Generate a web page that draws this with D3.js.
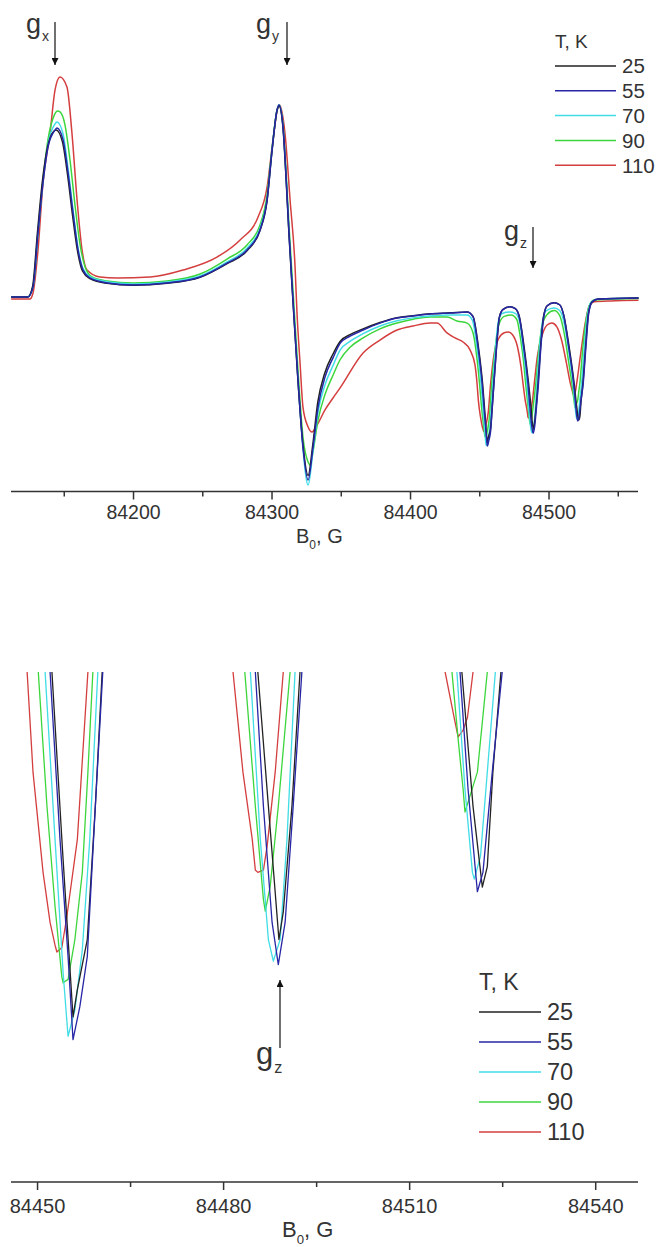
<!DOCTYPE html>
<html>
<head>
<meta charset="utf-8">
<script src="https://cdn.jsdelivr.net/npm/d3@7"></script>
<style>
  body { margin: 0; background: #fff; }
  svg { display: block; }
  text { font-family: "Liberation Sans", Arial, Helvetica, sans-serif; fill: #333; }
</style>
</head>
<body>
<svg id="chart" width="667" height="1247"></svg>
<script>
// EPR spectra at several temperatures: [field B0 (G), signal (a.u., g_y peak = 1)]
const temps  = ["25", "55", "70", "90", "110"];
const colors = ["#222222", "#2626a6", "#40dde6", "#3cd63c", "#d43e3e"];

const s25 = [
  [84112,0.005],[84124,0.005],[84127.5,0.06],[84131,0.34],[84134.5,0.60],[84138.2,0.78],[84142.5,0.862],[84144.5,0.870],
  [84149,0.81],[84152.7,0.64],[84156.3,0.43],[84160,0.24],[84163.5,0.14],[84168.9,0.100],[84181.2,0.076],[84200,0.066],
  [84224.5,0.076],[84248.4,0.107],[84267.9,0.178],[84282.3,0.245],[84291.7,0.35],[84296.8,0.505],[84300.4,0.765],
  [84304,0.972],[84305.4,0.995],[84308.3,0.88],[84310.5,0.62],[84312.6,0.33],[84315.5,-0.02],[84319.1,-0.43],
  [84322.7,-0.76],[84326.4,-0.92],[84329.8,-0.76],[84333.4,-0.54],[84338.4,-0.39],[84344.4,-0.29],[84349.5,-0.225],
  [84356.7,-0.19],[84366.1,-0.16],[84378.3,-0.127],[84390.6,-0.102],[84402.2,-0.092],[84414.4,-0.082],[84428.9,-0.077],
  [84441.2,-0.072],[84445.5,-0.095],[84449.3,-0.25],
  [84452.4,-0.444],[84454.1,-0.60],[84455.8,-0.747],[84456.5,-0.723],[84458.1,-0.679],[84459.4,-0.562],[84460.5,-0.444],
  [84462.5,-0.25],[84464.5,-0.10],[84467,-0.06],[84472,-0.045],[84476,-0.055],[84479,-0.10],[84482.3,-0.25],
  [84485.6,-0.444],[84487.1,-0.548],[84489.0,-0.679],[84489.7,-0.655],[84491.1,-0.562],[84492.4,-0.444],
  [84494.3,-0.25],[84496.3,-0.10],[84499,-0.04],[84504,-0.025],[84508,-0.035],[84511,-0.09],[84514.8,-0.25],
  [84518.5,-0.444],[84520.3,-0.562],[84521.8,-0.633],[84522.6,-0.615],[84523.5,-0.532],[84524.8,-0.444],
  [84526.8,-0.25],[84528.8,-0.08],[84531.5,-0.02],[84536,-0.005],[84565,0.0]
];

const s55 = [
  [84112,0.005],[84124,0.005],[84127.8,0.057],[84131.4,0.337],[84135,0.596],[84138.6,0.782],[84143.7,0.870],[84145.1,0.881],
  [84149.5,0.819],[84153.1,0.648],[84156.7,0.440],[84160.3,0.249],[84163.9,0.145],[84168.9,0.104],[84181.2,0.078],[84200,0.067],
  [84224.5,0.078],[84248.4,0.109],[84267.9,0.181],[84282.3,0.249],[84291.7,0.352],[84296.8,0.508],[84300.4,0.767],
  [84304,0.974],[84305.4,1.0],[84308.3,0.886],[84310.5,0.627],[84312.6,0.337],[84315.5,-0.01],[84319.1,-0.425],
  [84322.7,-0.772],[84326.4,-0.943],[84330,-0.772],[84333.6,-0.565],[84338.6,-0.41],[84344.4,-0.31],[84349.5,-0.235],
  [84356.7,-0.198],[84366.1,-0.166],[84378.3,-0.130],[84390.6,-0.104],[84402.2,-0.093],[84414.4,-0.083],[84428.9,-0.078],
  [84441.2,-0.073],[84445.5,-0.098],[84449.1,-0.254],
  [84452.1,-0.444],[84453.7,-0.591],[84455.0,-0.694],[84455.8,-0.767],[84456.9,-0.738],[84458.1,-0.694],[84459.4,-0.562],[84460.6,-0.444],
  [84462.5,-0.25],[84464.5,-0.10],[84467,-0.06],[84472,-0.045],[84476,-0.055],[84479,-0.10],[84482,-0.25],
  [84485.2,-0.444],[84486.5,-0.562],[84487.9,-0.664],[84488.9,-0.701],[84490.0,-0.664],[84491.3,-0.562],[84492.7,-0.444],
  [84494.5,-0.25],[84496.5,-0.10],[84499,-0.04],[84504,-0.025],[84508,-0.035],[84511,-0.09],[84514.5,-0.25],
  [84518.2,-0.444],[84519.5,-0.547],[84521.0,-0.637],[84521.9,-0.620],[84523.4,-0.532],[84525.0,-0.444],
  [84527,-0.25],[84529,-0.08],[84531.5,-0.02],[84536,-0.005],[84565,0.0]
];

const s70 = [
  [84112,0.005],[84124,0.005],[84127.8,0.06],[84131.4,0.345],[84135,0.61],[84138.6,0.80],[84143.5,0.90],[84145.1,0.912],
  [84149.5,0.85],[84153.1,0.67],[84156.7,0.455],[84160.3,0.26],[84163.9,0.152],[84168.9,0.11],[84181.2,0.084],[84200,0.073],
  [84224.5,0.083],[84248.4,0.114],[84267.9,0.187],[84282.3,0.258],[84291.7,0.362],[84296.8,0.515],[84300.4,0.77],
  [84304,0.975],[84305.4,1.0],[84308.3,0.89],[84310.5,0.635],[84312.6,0.345],[84315.5,0.0],[84319.1,-0.42],
  [84322.7,-0.78],[84326.4,-0.969],[84330,-0.79],[84333.6,-0.59],[84338.6,-0.45],[84344.4,-0.35],[84349.5,-0.27],
  [84356.7,-0.225],[84366.1,-0.185],[84378.3,-0.145],[84390.6,-0.118],[84402.2,-0.103],[84414.4,-0.093],[84428.9,-0.088],
  [84441.2,-0.088],[84445,-0.115],[84448.6,-0.27],
  [84451.3,-0.444],[84452.9,-0.591],[84454.2,-0.708],[84455.0,-0.764],[84456.1,-0.741],[84457.3,-0.688],[84458.5,-0.591],[84459.8,-0.444],
  [84461.7,-0.26],[84463.8,-0.12],[84466.5,-0.08],[84472,-0.073],[84476,-0.08],[84479,-0.12],[84481.6,-0.26],
  [84484.4,-0.444],[84486.0,-0.591],[84487.3,-0.679],[84488.1,-0.698],[84489.2,-0.679],[84490.3,-0.591],[84491.6,-0.444],
  [84493.5,-0.26],[84495.7,-0.12],[84498.5,-0.065],[84504,-0.052],[84508,-0.065],[84511,-0.12],[84514.5,-0.27],
  [84517.7,-0.444],[84519.0,-0.547],[84520.2,-0.620],[84520.5,-0.626],[84521.5,-0.606],[84522.6,-0.532],[84523.9,-0.444],
  [84525.8,-0.26],[84528,-0.09],[84531,-0.02],[84536,-0.005],[84565,0.0]
];

const s90 = [
  [84112,0.005],[84124,0.005],[84127.8,0.058],[84131.4,0.34],[84135,0.61],[84138.6,0.82],[84143,0.945],[84145.5,0.969],
  [84147.3,0.964],[84150.9,0.896],[84154.5,0.715],[84158.1,0.482],[84161.8,0.275],[84165.4,0.161],[84170.4,0.109],
  [84181.2,0.088],[84200,0.078],[84224.5,0.088],[84248.4,0.124],[84267.9,0.202],[84282.3,0.275],[84291.7,0.378],
  [84296.8,0.534],[84300.4,0.777],[84304,0.974],[84305.4,1.0],[84308.3,0.896],[84310.5,0.653],[84312.6,0.378],
  [84315.5,0.041],[84319.1,-0.373],[84322.7,-0.72],[84326.4,-0.85],[84327.8,-0.865],[84330,-0.793],[84333.6,-0.632],
  [84338.6,-0.50],[84344.4,-0.40],[84349.5,-0.32],[84356.7,-0.255],[84366.1,-0.207],[84378.3,-0.16],[84390.6,-0.13],
  [84402.2,-0.11],[84414.4,-0.098],[84426.7,-0.098],[84433.9,-0.119],[84441.2,-0.13],[84445.5,-0.181],[84448.6,-0.33],
  [84450.2,-0.444],[84451.6,-0.562],[84452.9,-0.650],[84454.0,-0.712],[84454.2,-0.717],[84455.0,-0.714],[84456.1,-0.679],
  [84457.3,-0.620],[84458.2,-0.532],[84459.0,-0.444],
  [84461.5,-0.26],[84464.5,-0.13],[84468,-0.095],[84473,-0.088],[84477,-0.11],[84480,-0.22],[84482,-0.33],
  [84483.5,-0.444],[84485.2,-0.562],[84486.5,-0.644],[84486.8,-0.654],[84487.6,-0.632],[84488.9,-0.562],[84490.8,-0.444],
  [84493,-0.27],[84495.5,-0.14],[84499,-0.085],[84504,-0.065],[84508,-0.09],[84511.5,-0.19],[84514.5,-0.33],
  [84516.9,-0.444],[84517.9,-0.503],[84518.7,-0.547],[84519.0,-0.567],[84519.8,-0.553],[84521.0,-0.532],[84521.8,-0.488],[84522.6,-0.444],
  [84524.5,-0.28],[84527,-0.12],[84530,-0.03],[84533,-0.01],[84565,-0.003]
];

const s110 = [
  [84112,-0.005],[84125.6,-0.005],[84127.8,0.026],[84131.4,0.249],[84135,0.596],[84140.1,0.855],[84143.7,1.078],[84147.3,1.145],
  [84152.3,1.093],[84155.9,0.855],[84159.6,0.508],[84163.2,0.249],[84166.8,0.145],[84176.2,0.109],[84188.4,0.104],
  [84212.3,0.109],[84236.1,0.145],[84260.6,0.212],[84277.3,0.301],[84290.3,0.42],[84296.8,0.575],[84301.1,0.819],
  [84304.7,0.99],[84305.8,1.0],[84309.7,0.855],[84313.4,0.508],[84317.0,0.161],[84318.4,-0.078],[84320.6,-0.337],
  [84322.7,-0.565],[84326.4,-0.668],[84329.2,-0.694],[84332.9,-0.658],[84338.6,-0.58],[84344.4,-0.518],[84349.5,-0.466],
  [84366.1,-0.285],[84378.3,-0.218],[84390.6,-0.166],[84402.2,-0.145],[84414.4,-0.13],[84419.5,-0.13],[84426.7,-0.181],
  [84432.5,-0.207],[84438.3,-0.228],[84443.3,-0.269],[84446.9,-0.347],
  [84448.4,-0.444],[84449.35,-0.532],[84450.97,-0.620],[84452.1,-0.664],[84452.9,-0.684],[84453.2,-0.690],[84454.0,-0.686],
  [84454.8,-0.659],[84456.5,-0.591],[84458.2,-0.444],
  [84460.5,-0.30],[84464,-0.21],[84468,-0.18],[84471,-0.176],[84474,-0.19],[84477.5,-0.25],[84480,-0.35],
  [84481.6,-0.444],[84483.2,-0.532],[84484.7,-0.591],[84485.2,-0.618],[84485.6,-0.620],[84486.5,-0.618],[84487.1,-0.597],
  [84488.4,-0.532],[84489.7,-0.444],
  [84492,-0.30],[84495.5,-0.19],[84499,-0.14],[84502.5,-0.13],[84506,-0.15],[84509.5,-0.22],[84513,-0.34],
  [84515.8,-0.444],[84517.4,-0.488],[84517.9,-0.501],[84518.7,-0.495],[84519.4,-0.484],[84520.3,-0.444],
  [84523,-0.30],[84526.5,-0.13],[84529.5,-0.04],[84533,-0.02],[84545,-0.015],[84565,-0.012]
];

const topMajor = [84200, 84300, 84400, 84500];
const topMinor = [84150, 84250, 84350, 84450, 84550];
const botMajor = [84450, 84480, 84510, 84540];
const botMinor = [84465, 84495, 84525];

const series = [s25, s55, s70, s90, s110];
const drawOrder = [4, 3, 2, 0, 1];

const svg = d3.select("#chart");

// ---------- scales ----------
const xTop = d3.scaleLinear().domain([84111.9, 84564.6]).range([11, 638]);
const yTop = d3.scaleLinear().domain([-1.0, 1.0]).range([491, 105]);
const xBot = d3.scaleLinear().domain([84445.8, 84546.9]).range([11, 638]);
const yBot = d3.scaleLinear().domain([-0.892, -0.444]).range([1182, 672]);

// ---------- full spectrum (top) ----------
const lineTop = d3.line().x(d => xTop(d[0])).y(d => yTop(d[1])).curve(d3.curveMonotoneX);
const gTop = svg.append("g");
drawOrder.forEach(i => {
  gTop.append("path").attr("d", lineTop(series[i]))
    .attr("fill", "none").attr("stroke", colors[i]).attr("stroke-width", 1.5)
    .attr("stroke-linejoin", "round");
});

// ---------- g_z region enlarged (bottom) ----------
svg.append("clipPath").attr("id", "clipBot")
  .append("rect").attr("x", 11).attr("y", 672).attr("width", 627).attr("height", 510);
const lineBot = d3.line().x(d => xBot(d[0])).y(d => yBot(d[1]));
const gBot = svg.append("g").attr("clip-path", "url(#clipBot)");
drawOrder.forEach(i => {
  gBot.append("path").attr("d", lineBot(series[i]))
    .attr("fill", "none").attr("stroke", colors[i]).attr("stroke-width", 1.3)
    .attr("stroke-linejoin", "round");
});

// ---------- axes ----------
function drawAxis(x, yPos, major, minor, fontSize, pad) {
  const g = svg.append("g").attr("transform", `translate(0,${yPos})`);
  g.call(d3.axisBottom(x).tickValues(major).tickSize(8).tickPadding(pad).tickFormat(d3.format("d")));
  const gm = svg.append("g").attr("transform", `translate(0,${yPos})`);
  gm.call(d3.axisBottom(x).tickValues(minor).tickSize(5).tickFormat(""));
  gm.select(".domain").remove();
  [g, gm].forEach(a => {
    a.selectAll("line").attr("stroke", "#333").attr("stroke-width", 1.5);
    a.selectAll(".domain").attr("stroke", "#333").attr("stroke-width", 1.5)
      .attr("d", `M${x.range()[0]},0H${x.range()[1]}`);
  });
  g.selectAll("text").attr("font-size", fontSize).attr("fill", "#333")
    .style("font-family", '"Liberation Sans", Arial, sans-serif');
}
drawAxis(xTop, 491.5, topMajor, topMinor, 19.5, 6);
drawAxis(xBot, 1182, botMajor, botMinor, 20, 9);

function axisTitle(x, y, size) {
  const t = svg.append("text").attr("x", x).attr("y", y).attr("font-size", size);
  t.append("tspan").text("B");
  t.append("tspan").text("0").attr("font-size", size * 0.6).attr("dy", size * 0.3);
  t.append("tspan").text(", G").attr("dy", -size * 0.3);
}
axisTitle(296, 543, 20);
axisTitle(282, 1237, 22);

// ---------- legends ----------
function legend(x, y0, step, lineLen, titleSize, labelSize) {
  svg.append("text").attr("x", x).attr("y", y0 - step + 0.36 * titleSize)
    .attr("font-size", titleSize).text("T, K");
  temps.forEach((t, i) => {
    const y = y0 + i * step;
    svg.append("line").attr("x1", x).attr("x2", x + lineLen).attr("y1", y).attr("y2", y)
      .attr("stroke", colors[i]).attr("stroke-width", 1.5);
    svg.append("text").attr("x", x + lineLen + 6).attr("y", y + 0.36 * labelSize)
      .attr("font-size", labelSize).text(t);
  });
}
legend(555, 66, 24.8, 61, 19, 20.5);
legend(479, 1012, 30, 62, 23, 23.5);

// ---------- g-value markers ----------
svg.append("defs").append("marker").attr("id", "arr")
  .attr("viewBox", "0 0 10 10").attr("refX", 10).attr("refY", 5)
  .attr("markerWidth", 7).attr("markerHeight", 7).attr("markerUnits", "userSpaceOnUse")
  .attr("orient", "auto")
  .append("path").attr("d", "M0,0L10,5L0,10Z").attr("fill", "#111");

function arrow(x, y1, y2) {
  svg.append("line").attr("x1", x).attr("x2", x).attr("y1", y1).attr("y2", y2)
    .attr("stroke", "#111").attr("stroke-width", 1.2).attr("marker-end", "url(#arr)");
}
function gLabel(x, y, sub, size) {
  const t = svg.append("text").attr("x", x).attr("y", y).attr("font-size", size).attr("fill", "#111");
  t.append("tspan").text("g");
  t.append("tspan").text(sub).attr("font-size", size * 0.52).attr("dy", size * 0.28).attr("dx", 1);
}
gLabel(26, 33, "x", 27);  arrow(55, 22, 65);
gLabel(256, 33, "y", 27); arrow(287, 22, 65);
gLabel(504, 240, "z", 27); arrow(533, 227, 268);
gLabel(256, 1064, "z", 31); arrow(280, 1048, 980);
</script>
</body>
</html>
